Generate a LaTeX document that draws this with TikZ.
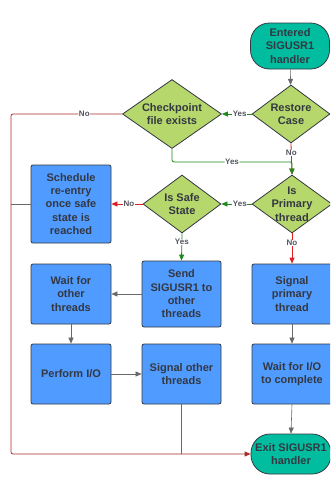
\documentclass[tikz,border=0pt]{standalone}
\usepackage{fontspec}
\setmainfont{Liberation Sans}
\usetikzlibrary{shapes.geometric,arrows.meta}
\definecolor{termgreen}{RGB}{0,189,160}
\definecolor{diagreen}{RGB}{181,215,108}
\definecolor{boxblue}{RGB}{80,155,255}
\definecolor{txtgray}{RGB}{52,56,66}
\definecolor{yesgreen}{RGB}{30,138,30}
\definecolor{nored}{RGB}{222,32,32}
\definecolor{linegray}{RGB}{105,105,105}
\definecolor{railred}{RGB}{170,45,45}
\begin{document}
\begin{tikzpicture}[x=1pt,y=-1pt,
  every node/.style={font=\fontsize{11}{13.3}\selectfont\bfseries,text=txtgray,align=center},
  term/.style={draw=txtgray,line width=0.8pt,fill=termgreen,rounded corners=19pt,minimum width=79pt},
  dia/.style={draw=txtgray,line width=0.8pt,fill=diagreen,diamond,inner sep=-6pt},
  box/.style={draw=txtgray,line width=0.8pt,fill=boxblue,rounded corners=2pt,minimum width=80pt,minimum height=60pt},
  lbl/.style={fill=white,inner sep=0.5pt,font=\fontsize{8}{9}\selectfont\bfseries,text=txtgray!85},
  tip/.style={-{Triangle[length=6pt,width=5pt]}},
  yesl/.style={tip,draw=yesgreen,line width=0.8pt},
  nol/.style={tip,draw=nored,line width=0.8pt},
  gry/.style={draw=linegray,line width=0.6pt}]
\fill[white] (0,0) rectangle (330,477);
\clip (0,0) rectangle (330,477);
\node[term,minimum height=46pt] (enter) at (290,46) {Entered\\SIGUSR1\\handler};
\node[dia,minimum width=78pt,minimum height=58pt] (restore) at (291,114) {Restore\\Case};
\node[dia,minimum width=99pt,minimum height=69pt] (check) at (172,114) {Checkpoint\\file exists};
\node[dia,minimum width=80pt,minimum height=58pt] (prim) at (292,204) {Is\\Primary\\thread};
\node[dia,minimum width=78pt,minimum height=58pt] (safe) at (182,204) {Is Safe\\State};
\node[box,minimum height=78pt] (sched) at (71,204) {Schedule\\re-entry\\once safe\\state is\\reached};
\node[box,minimum width=79pt,minimum height=66pt] (send) at (181.5,294) {Send\\SIGUSR1 to\\other\\threads};
\node[box] (waito) at (71,294) {Wait for\\other\\threads};
\node[box] (sigp) at (292,294) {Signal\\primary\\thread};
\node[box] (pio) at (71,374) {Perform I/O};
\node[box,minimum width=79pt] (sigo) at (181.5,374) {Signal other\\threads};
\node[box] (waitio) at (292,374) {Wait for I/O\\to complete};
\node[term,minimum width=80pt,minimum height=40pt] (exit) at (291,454) {Exit SIGUSR1\\handler};
\coordinate (rail) at (11,114);
\draw[gry,tip] (enter) -- (restore);
\draw[yesl] (restore.west) -- node[lbl,pos=0.4]{Yes} (check.east);
\draw[nol,draw=railred,rounded corners=2pt] (check.west) -- node[lbl,pos=0.34]{No} (rail) |- (exit.west);
\draw[nol] (restore.south) -- node[lbl,pos=0.31]{No} (prim.north);
\draw[yesl,rounded corners=2pt] (check.south) -- ++(0,13) -| node[lbl,pos=0.25]{Yes} (prim.north);
\draw[yesl] (prim.west) -- node[lbl,pos=0.39]{Yes} (safe.east);
\draw[nol] (safe.west) -- node[lbl,pos=0.44]{No} (sched.east);
\draw[gry] (sched.west) -- (sched.west -| rail);
\draw[yesl] (safe.south) -- node[lbl,pos=0.32]{Yes} (send.north);
\draw[nol] (prim.south) -- node[lbl,pos=0.32]{No} (sigp.north);
\draw[gry,tip] (send.west) -- (waito.east);
\draw[gry,tip] (waito.south) -- (pio.north);
\draw[gry,tip] (pio.east) -- (sigo.west);
\draw[gry,tip] (sigp.south) -- (waitio.north);
\draw[gry,tip] (waitio.south) -- (exit.north);
\draw[gry] (sigo.south) -- (sigo.south |- exit.west);
\end{tikzpicture}
\end{document}
